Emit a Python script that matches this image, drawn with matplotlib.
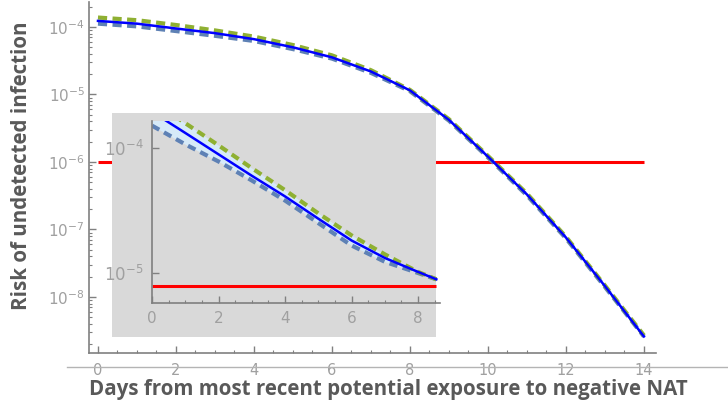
import numpy as np
import matplotlib
matplotlib.use('Agg')
import matplotlib.pyplot as plt
from matplotlib.ticker import FixedLocator, MultipleLocator, NullLocator, FuncFormatter
from matplotlib.lines import Line2D

# ---------------- data ----------------
main_days = [0, 1, 2, 3, 4, 5, 6, 7, 8, 9, 10, 11, 12, 13, 14]
main_mid = [1.23e-4, 1.12e-4, 9.5e-5, 8.1e-5, 6.6e-5, 5.0e-5, 3.55e-5, 2.19e-5,
            1.15e-5, 4.2e-6, 1.2e-6, 3.3e-7, 7.6e-8, 1.45e-8, 2.6e-9]
main_upper = [1.38e-4, 1.26e-4, 1.07e-4, 8.9e-5, 7.2e-5, 5.4e-5, 3.8e-5, 2.29e-5,
              1.17e-5, 4.3e-6, 1.23e-6, 3.4e-7, 7.8e-8, 1.48e-8, 2.7e-9]
main_lower = [1.12e-4, 1.02e-4, 8.7e-5, 7.4e-5, 6.2e-5, 4.7e-5, 3.4e-5, 2.09e-5,
              1.12e-5, 4.1e-6, 1.17e-6, 3.2e-7, 7.4e-8, 1.41e-8, 2.6e-9]
main_threshold = 1e-6

inset_days = [0, 1, 2, 3, 4, 5, 6, 7, 8, 8.55]
inset_mid = [1.95e-4, 1.32e-4, 8.9e-5, 6.0e-5, 4.1e-5, 2.72e-5, 1.82e-5, 1.32e-5, 1.02e-5, 8.9e-6]
inset_upper = [2.4e-4, 1.58e-4, 1.05e-4, 6.9e-5, 4.6e-5, 3.0e-5, 2.0e-5, 1.41e-5, 1.02e-5, 8.9e-6]
inset_lower = [1.51e-4, 1.07e-4, 7.8e-5, 5.5e-5, 3.8e-5, 2.51e-5, 1.66e-5, 1.23e-5, 1.0e-5, 8.9e-6]
inset_threshold = 7.9e-6

main_yticks = [1e-8, 1e-7, 1e-6, 1e-5, 1e-4]
inset_yticks = [1e-5, 1e-4]

xlabel = "Days from most recent potential exposure to negative NAT"
ylabel = "Risk of undetected infection"

# ---------------- style ----------------
BLUE = '#0000ff'
GREEN = '#8fb032'
STEEL = '#5e81b5'
RED = '#ff0000'
SPINE = '#808080'
TICKLAB = '#a0a0a0'
LABEL = '#595959'

W, H = 728, 401
fig = plt.figure(figsize=(W / 100, H / 100), dpi=100)

def pow_fmt(v, p):
    return r'$10^{%d}$' % int(round(np.log10(v)))

# main axes
ax = fig.add_axes([89 / W, 1 - 353 / H, (656 - 89) / W, (353 - 2) / H], zorder=0)
ax.set_yscale('log')
ax.set_xlim(-0.23, 14.31)
ax.set_ylim(10 ** -8.83, 10 ** -3.63)
ax.plot(main_days, [main_threshold] * len(main_days), color=RED, lw=2.2, solid_capstyle='butt')
ax.plot(main_days, main_lower, color=STEEL, lw=3.0, dashes=(2.2, 1.3))
ax.plot(main_days, main_upper, color=GREEN, lw=3.0, dashes=(2.2, 1.3))
ax.plot(main_days, main_mid, color=BLUE, lw=1.8)
for s in ['top', 'right']:
    ax.spines[s].set_visible(False)
for s in ['left', 'bottom']:
    ax.spines[s].set_color(SPINE)
    ax.spines[s].set_linewidth(1.2)
ax.yaxis.set_major_locator(FixedLocator(main_yticks))
ax.yaxis.set_major_formatter(FuncFormatter(pow_fmt))
ax.xaxis.set_major_locator(MultipleLocator(2))
ax.xaxis.set_minor_locator(MultipleLocator(0.5))
ax.tick_params(which='both', direction='in', colors=SPINE, labelcolor=TICKLAB)
ax.tick_params(which='major', length=5, width=1)
ax.tick_params(which='minor', length=2.5, width=0.8)
ax.tick_params(axis='x', pad=7.5, labelsize=10.5)
ax.tick_params(axis='y', pad=3, labelsize=11)

# gray backdrop of inset
bg = fig.add_axes([112 / W, 1 - 337 / H, 324 / W, 224 / H], zorder=1)
bg.set_facecolor('#d9d9d9')
bg.set_xticks([]); bg.set_yticks([])
for s in bg.spines.values():
    s.set_visible(False)

# inset axes
ins = fig.add_axes([152 / W, 1 - 303 / H, (440 - 152) / W, (303 - 121) / H], zorder=2)
ins.patch.set_alpha(0)
ins.set_yscale('log')
ins.set_xlim(0, 8.66)
ins.set_ylim(10 ** -5.24, 10 ** -3.784)
ins.fill_between(inset_days, inset_lower, inset_upper, color='#d6eaf8', lw=0)
ins.plot([0, 8.55], [inset_threshold, inset_threshold], color=RED, lw=2.2, solid_capstyle='butt')
ins.plot(inset_days, inset_lower, color=STEEL, lw=3.0, dashes=(2.0, 1.3))
ins.plot(inset_days, inset_upper, color=GREEN, lw=3.0, dashes=(2.0, 1.3))
ins.plot(inset_days, inset_mid, color=BLUE, lw=1.8)
for s in ['top', 'right']:
    ins.spines[s].set_visible(False)
for s in ['left', 'bottom']:
    ins.spines[s].set_color(SPINE)
    ins.spines[s].set_linewidth(1.2)
ins.yaxis.set_major_locator(FixedLocator(inset_yticks))
ins.yaxis.set_minor_locator(NullLocator())
ins.yaxis.set_major_formatter(FuncFormatter(pow_fmt))
ins.xaxis.set_major_locator(MultipleLocator(2))
ins.xaxis.set_minor_locator(MultipleLocator(0.5))
ins.tick_params(which='both', direction='in', colors=SPINE, labelcolor=TICKLAB)
ins.tick_params(which='major', length=5, width=1)
ins.tick_params(which='minor', length=2.5, width=0.8)
ins.tick_params(axis='x', pad=6, labelsize=11)
ins.tick_params(axis='y', pad=6, labelsize=12)

# separate thin line under main axis
fig.add_artist(Line2D([67 / W, 1.0], [1 - 367 / H] * 2, color='#b4b4b4', lw=1))

fig.text(388 / W, 1 - 389 / H, xlabel, ha='center', va='center', fontsize=14.8,
         fontweight='bold', color=LABEL, family=['Open Sans', 'DejaVu Sans'])
fig.text(22 / W, 1 - 166 / H, ylabel, ha='center', va='center', rotation=90, fontsize=14.8,
         fontweight='bold', color=LABEL, family=['Open Sans', 'DejaVu Sans'])

fig.savefig('out.png', dpi=100)
